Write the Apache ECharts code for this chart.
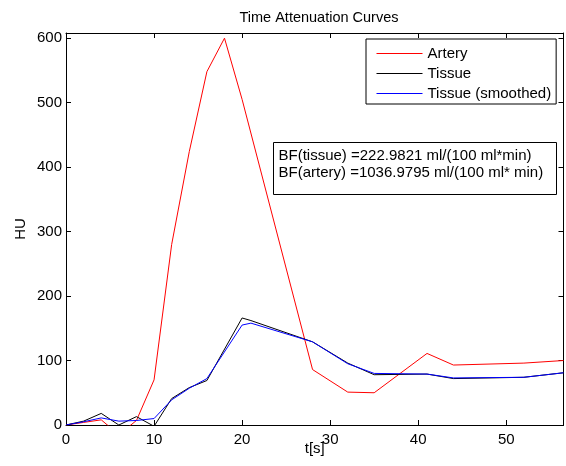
<!DOCTYPE html>
<html>
<head>
<meta charset="utf-8">
<script src="https://cdn.jsdelivr.net/npm/echarts@6/dist/echarts.min.js"></script>
<style>
html,body{margin:0;padding:0;background:#fff;}
#c{width:566px;height:466px;}
</style>
</head>
<body>
<div id="c"></div>
<script>
// Data
var arteryTime = [0, 2, 4, 6, 8, 10, 12, 14, 16, 18, 20, 28, 32, 35, 41, 44, 52, 56.5];
var arteryHU   = [0, 4, 8, -15, 7, 70, 280, 424, 548, 600, 505, 86, 51, 50, 111, 93, 96, 100];
var tissueTime = [0, 2, 4, 6, 8, 10, 12, 14, 16, 20, 21, 28, 32, 35, 41, 44, 52, 56.5];
var tissueHU   = [0, 6, 18, 0, 13, -2, 41, 58, 69, 166, 162, 129, 96, 78, 79, 72, 74, 81];
var smoothHU   = [0, 5, 11, 6, 7, 10, 39, 57, 72, 155, 158, 129, 95, 80, 79, 73, 74, 81];
var seriesNames = ['Artery', 'Tissue', 'Tissue (smoothed)'];
var seriesColors = ['#ff0000', '#000000', '#0000ff'];
var annotationLines = ['BF(tissue) =222.9821 ml/(100 ml*min)', 'BF(artery) =1036.9795 ml/(100 ml* min)'];
var titleText = 'Time Attenuation Curves';
var xName = 't[s]';
var yName = 'HU';

function pairs(t, v){ return t.map(function(x,i){ return [x, v[i]]; }); }

var FONT = '"Liberation Sans", Arial, Helvetica, sans-serif';
var chart = echarts.init(document.getElementById('c'), null, {renderer:'canvas'});
var axisCommon = {
  type:'value',
  axisLine:{show:true, onZero:false, lineStyle:{color:'#000', width:1}},
  axisTick:{show:true, inside:true, length:5, lineStyle:{color:'#000'}},
  splitLine:{show:false},
  axisLabel:{color:'#000', fontFamily:FONT, fontSize:15}
};
function ax(extra){ return Object.assign({}, JSON.parse(JSON.stringify(axisCommon)), extra); }

var option = {
  animation:false,
  backgroundColor:'#fff',
  title:{text:titleText, left:314, top:5, textAlign:'center',
    textStyle:{fontFamily:FONT, fontSize:14.5, fontWeight:'normal', color:'#000'}},
  grid:{left:66, top:33, right:2.5, bottom:41, containLabel:false},
  legend:{
    orient:'vertical', left:366, top:39,
    data:seriesNames.map(function(n,i){
      return {name:n, itemStyle:{opacity:0}, lineStyle:{color:seriesColors[i], width:1}};
    }),
    itemWidth:46, itemHeight:14, itemGap:5,
    padding:[7,5,3,10],
    borderColor:'#000', borderWidth:1, backgroundColor:'#fff',
    textStyle:{fontFamily:FONT, fontSize:15, color:'#000'}
  },
  xAxis:[
    ax({min:0, max:56.5, interval:10, position:'bottom',
        name:xName, nameLocation:'middle', nameGap:16, nameMoveOverlap:false,
        nameTextStyle:{fontFamily:FONT, fontSize:15, color:'#000'},
        axisLabel:{color:'#000', fontFamily:FONT, fontSize:15, margin:7, showMaxLabel:false,
          formatter:function(v){ return v; }}}),
    ax({min:0, max:56.5, interval:10, position:'top', axisLabel:{show:false}})
  ],
  yAxis:[
    ax({min:0, max:608, interval:100, position:'left',
        name:yName, nameLocation:'middle', nameGap:38, nameRotate:90, nameMoveOverlap:false,
        nameTextStyle:{fontFamily:FONT, fontSize:15, color:'#000'},
        axisLabel:{color:'#000', fontFamily:FONT, fontSize:15, margin:4,
          formatter:function(v){ return v; }}}),
    ax({min:0, max:608, interval:100, position:'right', axisLabel:{show:false}})
  ],
  series:[
    {name:seriesNames[0], type:'line', data:pairs(arteryTime, arteryHU), symbol:'none', clip:true,
     lineStyle:{color:seriesColors[0], width:1}, itemStyle:{color:seriesColors[0]}, z:3},
    {name:seriesNames[1], type:'line', data:pairs(tissueTime, tissueHU), symbol:'none', clip:true,
     lineStyle:{color:seriesColors[1], width:1}, itemStyle:{color:seriesColors[1]}, z:4},
    {name:seriesNames[2], type:'line', data:pairs(tissueTime, smoothHU), symbol:'none', clip:true,
     lineStyle:{color:seriesColors[2], width:1}, itemStyle:{color:seriesColors[2]}, z:5}
  ],
  graphic:[
    {type:'group', left:273, top:142, children:[
      {type:'rect', shape:{x:0, y:0, width:283, height:52},
       style:{fill:'#fff', stroke:'#000', lineWidth:1}},
      {type:'text', x:5, y:5, style:{text:annotationLines.join('\n'), fill:'#000',
       font:'15px ' + FONT, lineHeight:17}}
    ]}
  ]
};
chart.setOption(option);
</script>
</body>
</html>
